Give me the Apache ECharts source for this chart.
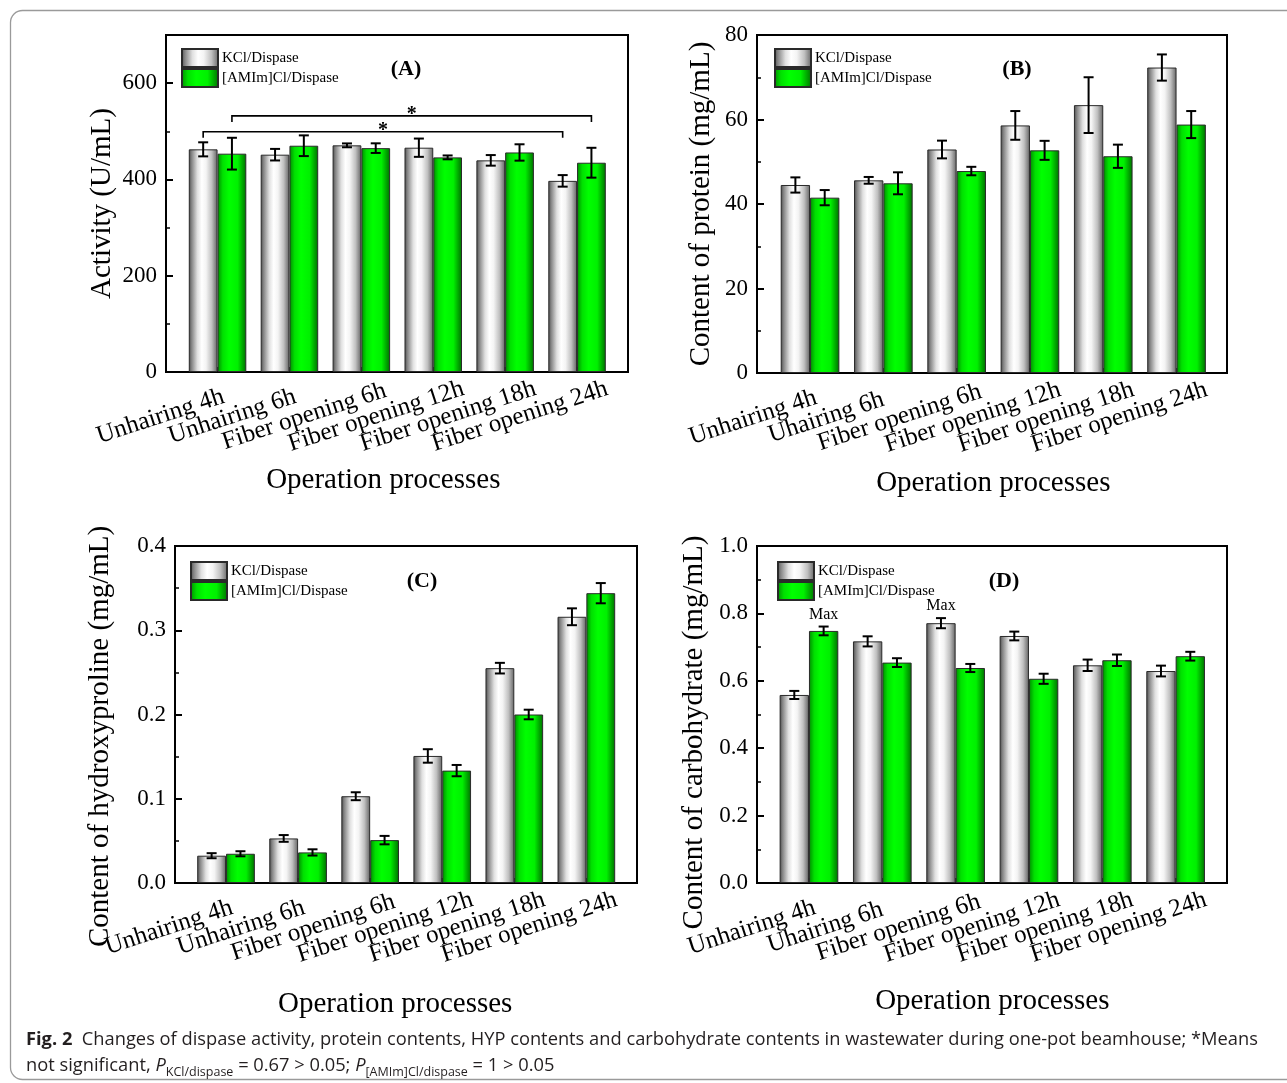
<!DOCTYPE html>
<html>
<head>
<meta charset="utf-8">
<script src="https://cdn.jsdelivr.net/npm/echarts@6/dist/echarts.min.js"></script>
<style>
html,body{margin:0;padding:0;background:#fff;}
#chart{width:1287px;height:1083px;}
</style>
</head>
<body>
<div id="chart"></div>
<script>
// ---------- data ----------
const categoriesAC = ['Unhairing 4h', 'Unhairing 6h', 'Fiber opening 6h', 'Fiber opening 12h', 'Fiber opening 18h', 'Fiber opening 24h'];
const categoriesBD = ['Unhairing 4h', 'Uhairing 6h', 'Fiber opening 6h', 'Fiber opening 12h', 'Fiber opening 18h', 'Fiber opening 24h'];
const seriesNames = ['KCl/Dispase', '[AMIm]Cl/Dispase'];

const activityKCl = [462.5, 451.4, 470.8, 465.9, 439.6, 397.0];
const activityKClErr = [14.6, 12, 4, 19, 11, 12];
const activityIL = [453.5, 470.0, 465.0, 445.8, 456.0, 434.7];
const activityILErr = [33, 21.5, 10, 4, 17, 31];

const proteinKCl = [44.5, 45.6, 52.9, 58.6, 63.4, 72.3];
const proteinKClErr = [1.8, 0.8, 2.1, 3.4, 6.6, 3.1];
const proteinIL = [41.5, 44.9, 47.8, 52.7, 51.3, 58.8];
const proteinILErr = [1.8, 2.6, 1.0, 2.25, 2.75, 3.2];

const hypKCl = [0.0324, 0.0529, 0.103, 0.1508, 0.255, 0.316];
const hypKClErr = [0.003, 0.004, 0.0047, 0.008, 0.0063, 0.010];
const hypIL = [0.0347, 0.0363, 0.0509, 0.1334, 0.200, 0.344];
const hypILErr = [0.003, 0.0037, 0.005, 0.0067, 0.0057, 0.012];

const carbKCl = [0.558, 0.717, 0.771, 0.733, 0.646, 0.629];
const carbKClErr = [0.012, 0.015, 0.015, 0.013, 0.017, 0.016];
const carbIL = [0.748, 0.654, 0.638, 0.606, 0.661, 0.673];
const carbILErr = [0.013, 0.013, 0.012, 0.015, 0.017, 0.013];

// significance brackets in (A): [fromCategory, fromSeries, toCategory, toSeries, level]
const activityBrackets = [[0, 1, 5, 1, 532], [0, 0, 5, 0, 499]];
const bracketLabel = '*';
// "Max" marks in (D): [category, series]
const carbMaxMarks = [[0, 1], [2, 0]];
const maxLabel = 'Max';

const panelLetters = ['(A)', '(B)', '(C)', '(D)'];
const yNames = ['Activity (U/mL)', 'Content of protein (mg/mL)', 'Content of hydroxyproline (mg/mL)', 'Content of carbohydrate (mg/mL)'];
const xName = 'Operation processes';

// ---------- style / layout ----------
const SERIF = 'Liberation Serif, Times New Roman, serif';
const BAR_FRAC = 0.4;
const grayGrad = {type: 'linear', x: 0, y: 0, x2: 1, y2: 0, colorStops: [
  {offset: 0, color: '#4a4a4a'}, {offset: 0.1, color: '#858585'}, {offset: 0.3, color: '#e0e0e0'},
  {offset: 0.45, color: '#ffffff'}, {offset: 0.6, color: '#f4f4f4'}, {offset: 0.8, color: '#c0c0c0'}, {offset: 1, color: '#626262'}]};
const greenGrad = {type: 'linear', x: 0, y: 0, x2: 1, y2: 0, colorStops: [
  {offset: 0, color: '#008a00'}, {offset: 0.18, color: '#00e000'}, {offset: 0.4, color: '#00ff00'},
  {offset: 0.7, color: '#00f000'}, {offset: 1, color: '#006e00'}]};

const panels = [
  {frame: {left: 166, top: 35, width: 462, height: 337}, data: {left: 181.6, width: 431.4},
   max: 700, interval: 200, dec: 0, cats: categoriesAC,
   vals: [activityKCl, activityIL], errs: [activityKClErr, activityILErr],
   yGap: 49, yShift: 0, xGap: 94, xShift: -14, legend: [181, 48], letter: [406, 69]},
  {frame: {left: 757, top: 35, width: 470, height: 338}, data: {left: 773.4, width: 439.8},
   max: 80, interval: 20, dec: 0, cats: categoriesBD,
   vals: [proteinKCl, proteinIL], errs: [proteinKClErr, proteinILErr],
   yGap: 41, yShift: 0, xGap: 96, xShift: 0, legend: [774, 48], letter: [1017, 69]},
  {frame: {left: 175, top: 546, width: 462, height: 337}, data: {left: 190, width: 432.4},
   max: 0.4, interval: 0.1, dec: 1, cats: categoriesAC,
   vals: [hypKCl, hypIL], errs: [hypKClErr, hypILErr],
   yGap: 60, yShift: 22, xGap: 107, xShift: -11, legend: [190, 561], letter: [422, 581]},
  {frame: {left: 757, top: 546, width: 470, height: 337}, data: {left: 772.3, width: 440},
   max: 1.0, interval: 0.2, dec: 1, cats: categoriesBD,
   vals: [carbKCl, carbIL], errs: [carbKClErr, carbILErr],
   yGap: 48, yShift: 18, xGap: 104, xShift: 0, legend: [777, 561], letter: [1004, 581]}
];

const grids = [], xAxes = [], yAxes = [], series = [], legends = [], graphics = [];

function errorBarSeries(axisIdx, vals, errs, side, marks) {
  return {
    type: 'custom', xAxisIndex: axisIdx, yAxisIndex: axisIdx, z: 6, silent: true,
    data: vals.map((v, i) => [i, v, errs[i]]),
    encode: {x: 0, y: 1},
    renderItem: function (params, api) {
      const i = api.value(0), v = api.value(1), e = api.value(2);
      const c = api.coord([i, v]);
      const bw = api.size([1, 0])[0] * BAR_FRAC;
      const x = c[0] + (side === 0 ? -bw / 2 : bw / 2);
      const yt = api.coord([i, v + e])[1];
      const yb = api.coord([i, v - e])[1];
      const st = {stroke: '#000', lineWidth: 2};
      const cap = 5;
      const children = [
        {type: 'line', shape: {x1: x, y1: yt, x2: x, y2: yb}, style: st},
        {type: 'line', shape: {x1: x - cap, y1: yt, x2: x + cap, y2: yt}, style: st},
        {type: 'line', shape: {x1: x - cap, y1: yb, x2: x + cap, y2: yb}, style: st}
      ];
      if (marks && marks.some(m => m[0] === i && m[1] === side)) {
        children.push({type: 'text', style: {text: maxLabel, x: x, y: yt - 4, align: 'center', verticalAlign: 'bottom',
          font: '16px ' + SERIF, fill: '#000'}});
      }
      return {type: 'group', children: children};
    }
  };
}

function bracketSeries(axisIdx, brackets) {
  return {
    type: 'custom', xAxisIndex: axisIdx, yAxisIndex: axisIdx, z: 6, silent: true,
    data: brackets,
    encode: {x: 0, y: 4},
    renderItem: function (params, api) {
      const y = api.value(4);
      const bw = api.size([1, 0])[0] * BAR_FRAC;
      const p1 = api.coord([api.value(0), y]);
      const p2 = api.coord([api.value(2), y]);
      const x1 = p1[0] + (api.value(1) === 0 ? -bw / 2 : bw / 2);
      const x2 = p2[0] + (api.value(3) === 0 ? -bw / 2 : bw / 2);
      const py = p1[1];
      return {type: 'group', children: [
        {type: 'polyline', shape: {points: [[x1, py + 6], [x1, py], [x2, py], [x2, py + 6]]},
         style: {stroke: '#000', lineWidth: 1.6, fill: null}},
        {type: 'text', style: {text: bracketLabel, x: (x1 + x2) / 2, y: py - 1, align: 'center', verticalAlign: 'middle',
          font: 'bold 20px ' + SERIF, fill: '#000'}}
      ]};
    }
  };
}

panels.forEach((p, k) => {
  const fi = 2 * k, di = 2 * k + 1;
  grids.push({left: p.frame.left, top: p.frame.top, width: p.frame.width, height: p.frame.height,
    show: true, borderColor: '#000', borderWidth: 2, backgroundColor: 'transparent', outerBoundsMode: 'none', containLabel: false});
  grids.push({left: p.data.left, top: p.frame.top, width: p.data.width, height: p.frame.height,
    show: false, outerBoundsMode: 'none', containLabel: false});

  xAxes.push({type: 'value', gridIndex: fi, min: 0, max: 1, show: false});
  xAxes.push({type: 'category', gridIndex: di, data: p.cats,
    axisLine: {show: false},
    axisTick: {show: true, inside: true, alignWithLabel: true, length: 5, lineStyle: {color: '#000', width: 1.5}},
    axisLabel: {interval: 0, rotate: 18, align: 'center', verticalAlign: 'middle', padding: [0, 120, 0, 0],
      margin: 26, fontSize: 25, fontFamily: SERIF, color: '#000', hideOverlap: false},
    splitLine: {show: false},
    name: xName, nameLocation: 'middle', nameGap: p.xGap,
    nameTextStyle: {fontSize: 29, fontFamily: SERIF, color: '#000',
      padding: p.xShift < 0 ? [0, -2 * p.xShift, 0, 0] : [0, 0, 0, 2 * p.xShift]}});

  yAxes.push({type: 'value', gridIndex: fi, min: 0, max: p.max, interval: p.interval,
    axisLine: {show: false},
    axisTick: {show: true, inside: true, length: 7, lineStyle: {color: '#000', width: 2}},
    minorTick: {show: true, splitNumber: 2, length: 4, lineStyle: {color: '#000', width: 1.5}},
    splitLine: {show: false}, minorSplitLine: {show: false},
    axisLabel: {margin: 9, fontSize: 23, fontFamily: SERIF, color: '#000',
      showMaxLabel: Math.abs(p.max / p.interval - Math.round(p.max / p.interval)) < 1e-9,
      formatter: v => v.toFixed(p.dec)},
    name: yNames[k], nameLocation: 'middle', nameGap: p.yGap, nameRotate: 90,
    nameTextStyle: {fontSize: 29, fontFamily: SERIF, color: '#000',
      padding: p.yShift > 0 ? [0, 2 * p.yShift, 0, 0] : [0, 0, 0, 0]}});
  yAxes.push({type: 'value', gridIndex: di, min: 0, max: p.max, interval: p.interval, show: false});

  [0, 1].forEach(s => {
    series.push({type: 'bar', name: seriesNames[s], xAxisIndex: di, yAxisIndex: di,
      data: p.vals[s], barWidth: (BAR_FRAC * 100) + '%', barGap: '0%',
      itemStyle: {color: s === 0 ? grayGrad : greenGrad, borderColor: '#2a2a2a', borderWidth: 1},
      emphasis: {disabled: true}, silent: true, z: 3});
  });
  [0, 1].forEach(s => {
    series.push(errorBarSeries(di, p.vals[s], p.errs[s], s, k === 3 ? carbMaxMarks : null));
  });
  if (k === 0) series.push(bracketSeries(di, activityBrackets));

  legends.push({data: seriesNames, orient: 'vertical', left: p.legend[0], top: p.legend[1], padding: 0,
    itemWidth: 36, itemHeight: 18, itemGap: 0, selectedMode: false, icon: 'rect',
    textStyle: {fontSize: 15, lineHeight: 18, height: 18, fontFamily: SERIF, color: '#000', padding: [0, 0, 0, -1]}});

  graphics.push({type: 'text', x: p.letter[0], y: p.letter[1], z: 10,
    style: {text: panelLetters[k], align: 'center', verticalAlign: 'middle', font: 'bold 22px ' + SERIF, fill: '#000'}});
});

// outer rounded border
graphics.push({type: 'rect', z: -1, shape: {x: 10.5, y: 10.5, width: 1400, height: 1069, r: 12},
  style: {fill: null, stroke: '#9a9a9a', lineWidth: 1.3}});

// caption
const CAP_FONT = 'Open Sans, Noto Sans, sans-serif';
const CAP_SIZE = 18.3;
graphics.push({type: 'text', x: 26, y: 1040, z: 10, style: {
  text: '{b|Fig. 2}{n|  Changes of dispase activity, protein contents, HYP contents and carbohydrate contents in wastewater during one-pot beamhouse; *Means}',
  verticalAlign: 'middle', align: 'left',
  rich: {
    b: {fontFamily: CAP_FONT, fontSize: CAP_SIZE, fontWeight: 'bold', fill: '#231f20', lineHeight: 24},
    n: {fontFamily: CAP_FONT, fontSize: CAP_SIZE, fill: '#231f20', lineHeight: 24}
  }}});
graphics.push({type: 'text', x: 26, y: 1066, z: 10, style: {
  text: '{n|not significant, }{i|P}{s|KCl/dispase}{n| = 0.67 > 0.05; }{i|P}{s|[AMIm]Cl/dispase}{n| = 1 > 0.05}',
  verticalAlign: 'middle', align: 'left',
  rich: {
    n: {fontFamily: CAP_FONT, fontSize: CAP_SIZE, fill: '#231f20', lineHeight: 26, verticalAlign: 'middle'},
    i: {fontFamily: CAP_FONT, fontSize: CAP_SIZE, fontStyle: 'italic', fill: '#231f20', lineHeight: 26, verticalAlign: 'middle'},
    s: {fontFamily: CAP_FONT, fontSize: 12.5, fill: '#231f20', lineHeight: 26, verticalAlign: 'bottom'}
  }}});

const chart = echarts.init(document.getElementById('chart'));
chart.setOption({
  animation: false,
  backgroundColor: '#fff',
  grid: grids, xAxis: xAxes, yAxis: yAxes, series: series, legend: legends, graphic: graphics
});
</script>
</body>
</html>
